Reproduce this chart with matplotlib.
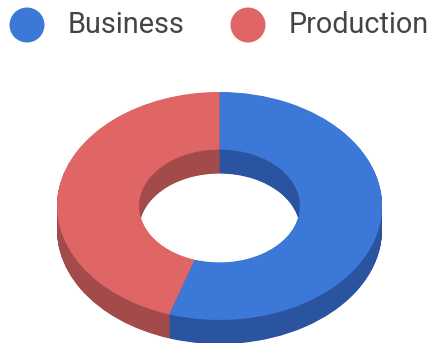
import matplotlib
matplotlib.use('Agg')
import matplotlib.pyplot as plt
from matplotlib.patches import Circle

plt.rcParams['font.family'] = ['Roboto', 'DejaVu Sans']

categories = ['Business', 'Production']
shares = [55, 45]

top_colors = ['#3c78d8', '#e06666']
side_colors = ['#2a54a0', '#a34a4a']

W, H = 431, 343
dpi = 100

# Ring geometry in pixels
cx, cy = 219.5, 206
rx, ry = 162.5, 114
depth = 24
hole = 0.495

fig = plt.figure(figsize=(W / dpi, H / dpi), dpi=dpi)
ax = fig.add_axes([0, 0, 1, 1])


def ring(colors, yshift):
    ax.pie(shares, colors=colors, startangle=90, counterclock=False, radius=1,
           center=(0, yshift), wedgeprops={'width': 1 - hole, 'linewidth': 0})


# Stack darker rings downward for the extruded walls, then the top face
for i in range(depth * 2, 0, -1):
    ring(side_colors, -i / 2 / ry)
ring(top_colors, 0)

ax.set_aspect('auto')
ax.set_xlim(-cx / rx, (W - cx) / rx)
ax.set_ylim(-(H - cy) / ry, cy / ry)
ax.axis('off')

# Legend along the top
legend_x = [27, 248]
baseline_y = 33
for name, color, x in zip(categories, top_colors, legend_x):
    fig.add_artist(Circle((x, H - 25), 17.5, color=color, lw=0, transform=None))
    fig.text((x + 41) / W, 1 - baseline_y / H, name, fontsize=20.8, color='#444444',
             ha='left', va='baseline')

fig.savefig('out.png', dpi=dpi)
